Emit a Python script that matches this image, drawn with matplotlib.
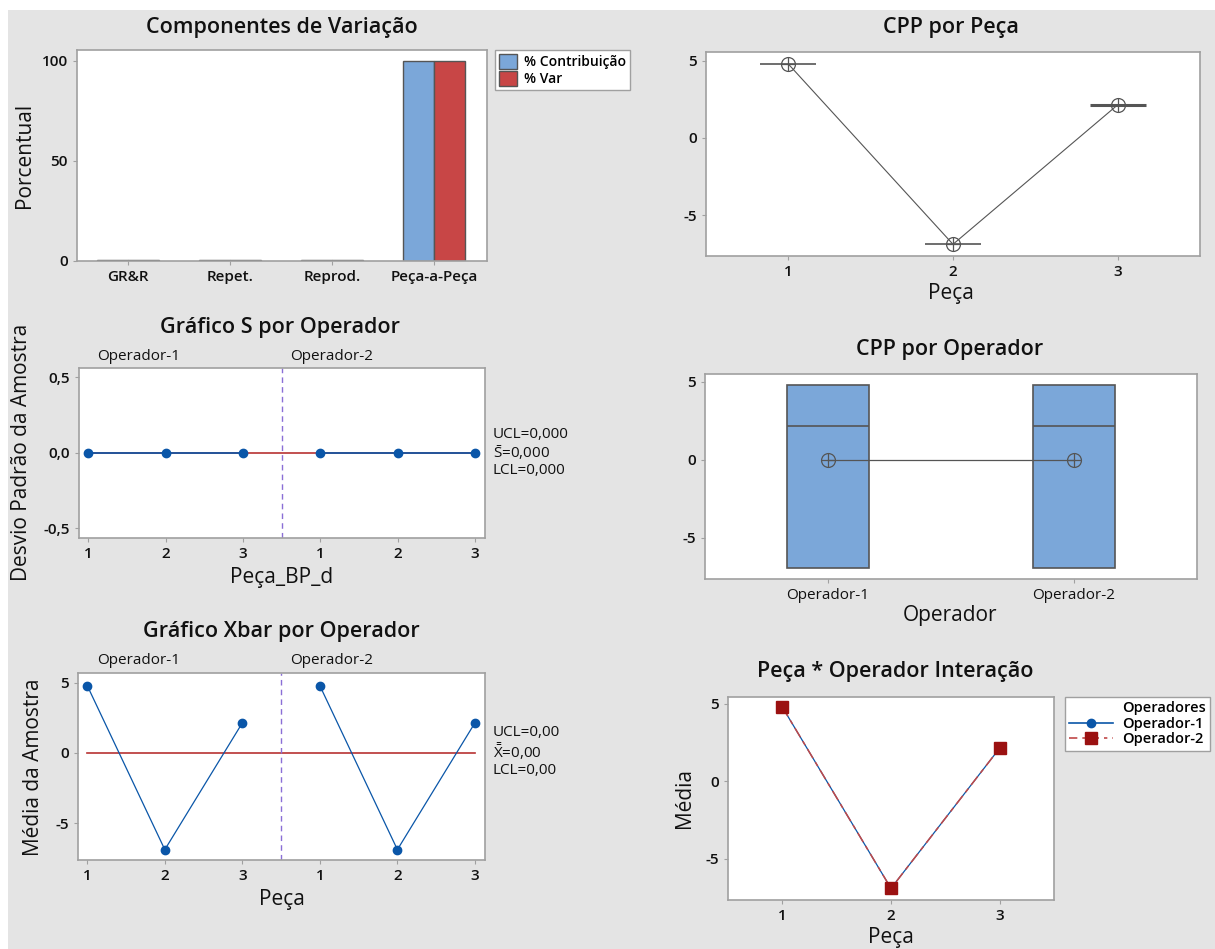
import matplotlib
matplotlib.use('Agg')
import matplotlib.pyplot as plt
import numpy as np
from matplotlib.lines import Line2D
from matplotlib.patches import Patch, Rectangle

plt.rcParams['font.family'] = ['Open Sans', 'DejaVu Sans']
plt.rcParams['axes.unicode_minus'] = False
plt.rcParams['mathtext.fontset'] = 'custom'
plt.rcParams['mathtext.rm'] = 'Open Sans'
plt.rcParams['mathtext.it'] = 'Open Sans'

# dados
componentes = ['GR&R', 'Repet.', 'Reprod.', 'Peça-a-Peça']
pct_contrib = [0.4, 0.4, 0.4, 100.0]
pct_var = [0.4, 0.4, 0.4, 100.0]
pecas = [1, 2, 3]
media_peca = [4.8, -6.9, 2.15]
operadores = ['Operador-1', 'Operador-2']
desvio_op1 = [0.0, 0.0, 0.0]
desvio_op2 = [0.0, 0.0, 0.0]
media_op1 = [4.8, -6.9, 2.15]
media_op2 = [4.8, -6.9, 2.15]
s_bar = 0.0
x_bar = 0.0

W, H = 1215, 949
BG = '#e4e4e4'
SPINE = '#a0a0a0'
BLUE = '#0a56a8'
RED = '#b83232'
GRAY = '#555555'

fig = plt.figure(figsize=(W / 100, H / 100), dpi=100)
fig.patch.set_facecolor('white')
fig.patches.append(Rectangle((8 / W, 0), 1, 1 - 10 / H, transform=fig.transFigure,
                             facecolor=BG, edgecolor='none', zorder=-10))


def px_ax(l, t, r, b):
    ax = fig.add_axes([l / W, 1 - b / H, (r - l) / W, (b - t) / H])
    for s in ax.spines.values():
        s.set_color(SPINE)
        s.set_linewidth(1.2)
    ax.tick_params(colors=SPINE, labelcolor='#111111', length=3, labelsize=11)
    return ax


def ftext(x, y, s, size=15.5, weight='semibold', rot=0, ha='center'):
    fig.text(x / W, 1 - y / H, s, fontsize=size, fontweight=weight, rotation=rot,
             ha=ha, va='center', color='#111111')


def bold_ticks(ax):
    for lab in ax.get_xticklabels() + ax.get_yticklabels():
        lab.set_fontweight('semibold')


# 1 - Componentes de Variação
ax1 = px_ax(77, 50, 487, 261)
xc = np.arange(len(componentes))
ax1.bar(xc - 0.15, pct_contrib, width=0.3, color='#7ba7d9', edgecolor=GRAY, lw=1)
ax1.bar(xc + 0.15, pct_var, width=0.3, color='#c84646', edgecolor=GRAY, lw=1)
ax1.set_xlim(-0.5, 3.52)
ax1.set_ylim(0, 105.5)
ax1.set_xticks(xc)
ax1.set_xticklabels(componentes)
ax1.set_yticks([0, 50, 100])
bold_ticks(ax1)
leg1 = fig.legend(handles=[Patch(facecolor='#7ba7d9', edgecolor=GRAY, label='% Contribuição'),
                           Patch(facecolor='#c84646', edgecolor=GRAY, label='% Var')],
                  loc='upper left', bbox_to_anchor=(495 / W, 1 - 50 / H), fontsize=10,
                  fancybox=False, framealpha=1, edgecolor=SPINE, handlelength=1.3,
                  handleheight=1.3, handletextpad=0.5, labelspacing=0.1, borderpad=0.3,
                  borderaxespad=0)
for t in leg1.get_texts():
    t.set_fontweight('semibold')
ftext(282, 28, 'Componentes de Variação')
ftext(25, 155, 'Porcentual', size=15, weight='medium', rot=90)

# 2 - CPP por Peça
ax2 = px_ax(706, 52, 1200, 256)
ax2.plot(pecas, media_peca, color=GRAY, lw=0.8)
ax2.hlines(media_peca, np.array(pecas) - 0.17, np.array(pecas) + 0.17,
           colors=GRAY, lw=[1.2, 1.2, 2.2])
ax2.plot(pecas, media_peca, ls='none', marker='o', ms=10, mfc='none', mec=GRAY, mew=0.9)
ax2.plot(pecas, media_peca, ls='none', marker='+', ms=10, mec=GRAY, mew=0.9)
ax2.set_xlim(0.5, 3.5)
ax2.set_ylim(-7.66, 5.58)
ax2.set_xticks(pecas)
ax2.set_yticks([-5, 0, 5])
bold_ticks(ax2)
ftext(951, 28, 'CPP por Peça')
ftext(951, 293, 'Peça', size=15, weight='medium')

# 3 - Gráfico S por Operador
xs = np.arange(1, 7)
ax3 = px_ax(79, 368, 485, 538)
ax3.plot([1, 6], [s_bar, s_bar], color=RED, lw=1.2, zorder=2)
ax3.plot(xs[:3], desvio_op1, color=BLUE, lw=1.2, marker='o', ms=6, zorder=3)
ax3.plot(xs[3:], desvio_op2, color=BLUE, lw=1.2, marker='o', ms=6, zorder=3)
ax3.axvline(3.5, color='#8a6fd6', ls=(0, (4, 3)), lw=1)
ax3.set_xlim(0.88, 6.13)
ax3.set_ylim(-0.566, 0.56)
ax3.set_xticks(xs)
ax3.set_xticklabels(['1', '2', '3', '1', '2', '3'])
ax3.set_yticks([-0.5, 0, 0.5])
ax3.set_yticklabels(['-0,5', '0,0', '0,5'])
bold_ticks(ax3)
ftext(97, 356, 'Operador-1', size=11, weight='normal', ha='left')
ftext(290, 356, 'Operador-2', size=11, weight='normal', ha='left')
ftext(493, 434, 'UCL=0,000', size=11, weight='normal', ha='left')
ftext(493, 453, r'$\bar{\mathrm{S}}$=0,000', size=11, weight='normal', ha='left')
ftext(493, 471, 'LCL=0,000', size=11, weight='normal', ha='left')
ftext(280, 327, 'Gráfico S por Operador')
ftext(22, 452, 'Desvio Padrão da Amostra', size=15, weight='medium', rot=90)
ftext(282, 577, 'Peça_BP_d', size=15, weight='medium')

# 4 - Gráfico Xbar por Operador
ax4 = px_ax(78, 673, 485, 860)
ax4.plot([1, 6], [x_bar, x_bar], color=RED, lw=1.2, zorder=2)
ax4.plot(xs[:3], media_op1, color=BLUE, lw=0.9, marker='o', ms=6, zorder=3)
ax4.plot(xs[3:], media_op2, color=BLUE, lw=0.9, marker='o', ms=6, zorder=3)
ax4.axvline(3.5, color='#8a6fd6', ls=(0, (4, 3)), lw=1)
ax4.set_xlim(0.88, 6.13)
ax4.set_ylim(-7.64, 5.71)
ax4.set_xticks(xs)
ax4.set_xticklabels(['1', '2', '3', '1', '2', '3'])
ax4.set_yticks([-5, 0, 5])
bold_ticks(ax4)
ftext(97, 661, 'Operador-1', size=11, weight='normal', ha='left')
ftext(290, 661, 'Operador-2', size=11, weight='normal', ha='left')
ftext(493, 732, 'UCL=0,00', size=11, weight='normal', ha='left')
ftext(493, 751, r'$\bar{\bar{\mathrm{X}}}$=0,00', size=11, weight='normal', ha='left')
ftext(493, 770, 'LCL=0,00', size=11, weight='normal', ha='left')
ftext(281, 631, 'Gráfico Xbar por Operador')
ftext(34, 767, 'Média da Amostra', size=15, weight='medium', rot=90)
ftext(282, 899, 'Peça', size=15, weight='medium')

# 5 - CPP por Operador
ax5 = px_ax(705, 374, 1197, 579)
xo = np.arange(1, len(operadores) + 1)
dados_op = [media_op1, media_op2]
mins = [np.min(d) for d in dados_op]
maxs = [np.max(d) for d in dados_op]
meds = [np.median(d) for d in dados_op]
means = [np.mean(d) for d in dados_op]
ax5.bar(xo, np.array(maxs) - np.array(mins), bottom=mins, width=0.33,
        color='#7ba7d9', edgecolor=GRAY, lw=1.2)
ax5.hlines(meds, xo - 0.165, xo + 0.165, colors=GRAY, lw=1.2)
ax5.plot(xo, means, color=GRAY, lw=0.9)
ax5.plot(xo, means, ls='none', marker='o', ms=10, mfc='none', mec=GRAY, mew=0.9)
ax5.plot(xo, means, ls='none', marker='+', ms=10, mec=GRAY, mew=0.9)
ax5.set_xlim(0.5, 2.5)
ax5.set_ylim(-7.63, 5.51)
ax5.set_xticks(xo)
ax5.set_xticklabels(operadores)
ax5.set_yticks([-5, 0, 5])
for lab in ax5.get_yticklabels():
    lab.set_fontweight('semibold')
ftext(950, 349, 'CPP por Operador')
ftext(950, 616, 'Operador', size=15, weight='medium')

# 6 - Peça * Operador Interação
ax6 = px_ax(728, 697, 1054, 900)
ax6.plot(pecas, media_op1, color=BLUE, lw=0.9, marker='o', ms=6)
ax6.plot(pecas, media_op2, color='#c04848', lw=1.1, ls=(0, (7, 3, 3, 3)),
         marker='s', ms=9, mfc='#9b1111', mec='#9b1111')
ax6.set_xlim(0.5, 3.5)
ax6.set_ylim(-7.65, 5.45)
ax6.set_xticks(pecas)
ax6.set_yticks([-5, 0, 5])
bold_ticks(ax6)
h_titulo = Line2D([], [], color='none')
h_op1 = Line2D([], [], color=BLUE, lw=1.2, marker='o', ms=6)
h_op2 = Line2D([], [], color='#c04848', lw=1.2, ls=(0, (5, 3, 2, 3)),
               marker='s', ms=8, mfc='#9b1111', mec='#9b1111')
leg6 = fig.legend(handles=[h_titulo, h_op1, h_op2], labels=['Operadores'] + operadores,
                  loc='upper left', bbox_to_anchor=(1065 / W, 1 - 697 / H), fontsize=10.5,
                  fancybox=False, framealpha=1, edgecolor=SPINE, handlelength=3,
                  handletextpad=0.6, labelspacing=0.1, borderpad=0.3, borderaxespad=0)
for t in leg6.get_texts():
    t.set_fontweight('semibold')
ftext(895, 671, 'Peça * Operador Interação')
ftext(684, 798, 'Média', size=15, weight='medium', rot=90)
ftext(891, 937, 'Peça', size=15, weight='medium')

fig.savefig('out.png', dpi=100, facecolor=fig.get_facecolor())
